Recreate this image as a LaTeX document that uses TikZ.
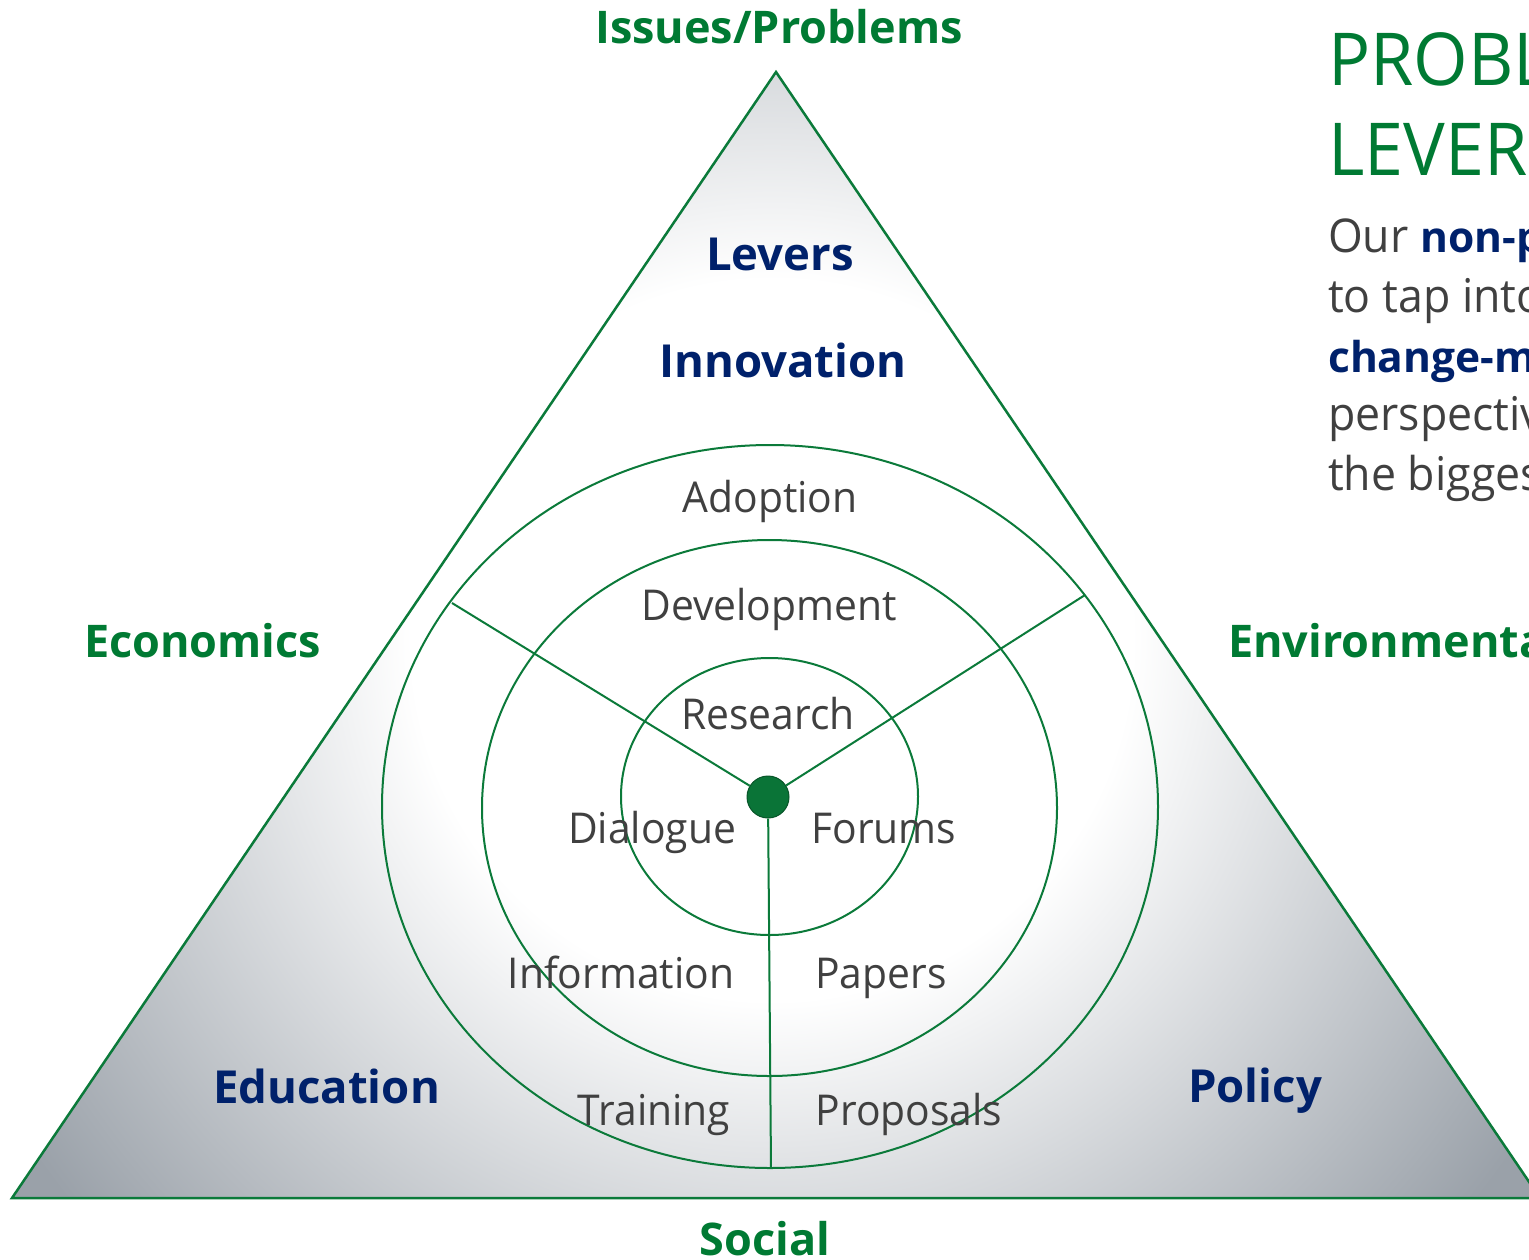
\documentclass[tikz,border=0pt]{standalone}
\usepackage{fontspec}
\setmainfont{Open Sans}[FakeStretch=0.96]
\newfontfamily\bfam{Open Sans}
\definecolor{lgreen}{HTML}{0B7A3A}
\definecolor{tgreen}{HTML}{007A33}
\definecolor{navy}{HTML}{00216B}
\definecolor{tgray}{HTML}{404040}
\definecolor{shadegray}{HTML}{9AA1A9}
\pgfdeclareradialshading{trishade}{\pgfpointorigin}{color(0bp)=(white); color(9bp)=(white); color(22.5bp)=(shadegray); color(50bp)=(shadegray)}
\tikzset{
  gline/.style={draw=lgreen, line width=2pt},
  catlbl/.style={text=tgreen, font=\fontsize{45}{52}\bfam\bfseries, anchor=base, inner sep=0pt},
  levlbl/.style={text=navy, font=\fontsize{45.5}{54}\bfam\bfseries, anchor=base, inner sep=0pt},
  ringlbl/.style={text=tgray, font=\fontsize{42.5}{50}\selectfont, anchor=base, inner sep=0pt},
  titlelbl/.style={text=tgreen, font=\fontsize{73}{80}\selectfont, anchor=base west, inner sep=0pt},
  paralbl/.style={text=tgray, font=\fontsize{46.5}{60}\selectfont, anchor=base west, inner sep=0pt},
  parabold/.style={text=navy, font=\fontsize{42.5}{60}\bfam\bfseries, anchor=base west, inner sep=0pt},
}
\begin{document}
\begin{tikzpicture}[x=1pt, y=-1pt]
\useasboundingbox (0,0) rectangle (1529,1259);
\clip (0,0) rectangle (1529,1259);
% shaded triangle
\begin{scope}
  \clip (776,72) -- (12,1198) -- (1540,1198) -- cycle;
  \shade[shading=trishade] (772,640) circle[radius=1000];
\end{scope}
\draw[gline, line width=2.5pt, line join=miter] (776,72) -- (12,1198) -- (1540,1198) -- cycle;
% rings
\draw[gline] (770,806.5) ellipse [x radius=388, y radius=361.5];
\draw[gline] (769.5,808) ellipse [x radius=287.5, y radius=268];
\draw[gline] (769.5,796.5) ellipse [x radius=148.5, y radius=138.5];
% hub and spokes
\node[circle, fill=lgreen!95!black, draw=lgreen!70!black, line width=1pt, minimum size=42pt, inner sep=0pt] (hub) at (768,797) {};
\coordinate (sl) at (452,603);
\coordinate (sr) at (1085,595);
\coordinate (sb) at (771,1168);
\draw[gline] (hub) -- (sl);
\draw[gline] (hub) -- (sr);
\draw[gline] (hub) -- (sb);
% category labels
\node[catlbl] (issues) at (779,43) {Issues/Problems};
\node[catlbl, anchor=base west] (econ) at (84,657) {Economics};
\node[catlbl, anchor=base west] (env) at (1228,657) {Environmental};
\node[catlbl] (social) at (765,1255) {Social};
% lever labels
\node[levlbl] (levers) at (780,270) {Levers};
\node[levlbl] (innov) at (783,377) {Innovation};
\node[levlbl, anchor=base west] (educ) at (213,1103) {Education};
\node[levlbl, anchor=base west] (policy) at (1188,1102) {Policy};
% ring labels
\node[ringlbl] (adopt) at (770,512) {Adoption};
\node[ringlbl] (devel) at (769,620) {Development};
\node[ringlbl] (resea) at (768,729) {Research};
\node[ringlbl] (dialo) at (652,843) {Dialogue};
\node[ringlbl] (forum) at (884,843) {Forums};
\node[ringlbl] (infor) at (621,988) {Information};
\node[ringlbl] (paper) at (881,988) {Papers};
\node[ringlbl] (train) at (654,1125) {Training};
\node[ringlbl] (propo) at (909,1125) {Proposals};
% side text
\node[titlelbl] (t1) at (1328,85) {PROBLEMS \&};
\node[titlelbl] (t2) at (1328,175) {LEVERS};
\node[paralbl] (p1) at (1328,252) {Our {\fontsize{42.5}{60}\bfam\bfseries\color{navy}non-profit}};
\node[paralbl] (p2) at (1328,312) {to tap into};
\node[parabold] (p3) at (1328,372) {change-makers};
\node[paralbl] (p4) at (1328,430) {perspectives};
\node[paralbl] (p5) at (1328,490) {the biggest};
\end{tikzpicture}
\end{document}
